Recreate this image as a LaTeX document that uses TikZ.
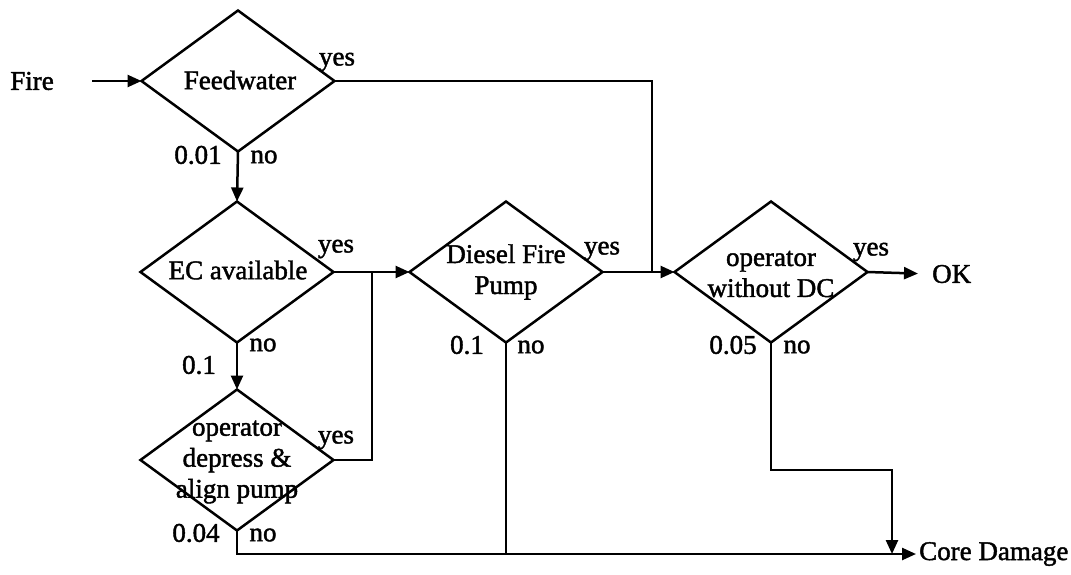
\documentclass[tikz,border=0pt]{standalone}
\usepackage{fontspec}
\setmainfont{Liberation Serif}[BoldFont=Liberation Serif,BoldFeatures={FakeBold=1.6}]
\usetikzlibrary{shapes.geometric,arrows.meta}
\begin{document}
\begin{tikzpicture}[x=1pt,y=-1pt,
  dia/.style={draw,diamond,line width=2.5pt,inner sep=0pt,outer sep=0pt,minimum width=193pt,minimum height=141pt},
  txt/.style={font=\fontsize{27}{31}\selectfont\bfseries,align=center,inner sep=0pt},
  lbl/.style={font=\fontsize{27}{31}\selectfont\bfseries,inner sep=0pt},
  conn/.style={line width=2.5pt},
  arr/.style={conn,-{Triangle[length=14pt,width=12pt]}},
]
\useasboundingbox (0,0) rectangle (1071,574);

% decision diamonds
\node[dia] (fw) at (238,81) {};
\node[dia] (ec) at (237,272) {};
\node[dia] (od) at (237,460) {};
\node[dia] (df) at (506,272) {};
\node[dia] (dc) at (771,272) {};

% texts inside
\node[txt] (fwt) at (240,80) {Feedwater};
\node[txt] (ect) at (238,270) {EC available};
\node[txt] (odt) at (237,462) {operator\\depress \&\\align pump};
\node[txt] (dft) at (506,272) {Diesel Fire\\Pump};
\node[txt] (dct) at (771,274) {operator\\without DC};

% branch labels
\node[lbl] (fwy) at (337,62) {yes};
\node[lbl] (fwn) at (264,157) {no};
\node[lbl] (fwp) at (198,155) {0.01};
\node[lbl] (ecy) at (336,249) {yes};
\node[lbl] (ecn) at (263,345) {no};
\node[lbl] (ecp) at (199,365) {0.1};
\node[lbl] (ody) at (336,440) {yes};
\node[lbl] (odn) at (263,535) {no};
\node[lbl] (odp) at (196,533) {0.04};
\node[lbl] (dfy) at (602,251) {yes};
\node[lbl] (dfn) at (531,347) {no};
\node[lbl] (dfp) at (467,345) {0.1};
\node[lbl] (dcy) at (871,252) {yes};
\node[lbl] (dcn) at (797,347) {no};
\node[lbl] (dcp) at (733,345) {0.05};

% terminals
\node[lbl] (fire) at (32,81) {Fire};
\node[lbl,anchor=west] (ok) at (932,274) {OK};
\node[lbl,anchor=west] (cd) at (919,554) {Core Damage};

% helper coordinates
\coordinate (fireS) at (92,81);
\coordinate (j1) at (372,272);
\coordinate (j2) at (652,272);
\coordinate (c1) at (892,470);
\coordinate (b1) at (237,554);
\coordinate (b2) at (892,554);

% connectors
\draw[arr] (fireS) -- (fw.west);
\draw[arr] (fw.south) -- (ec.north);
\draw[arr] (ec.south) -- (od.north);
\draw[arr] (ec.east) -- (df.west);
\draw[conn] (od.east) -| (j1);
\draw[arr] (df.east) -- (dc.west);
\draw[conn] (fw.east) -| (j2);
\draw[arr,shorten >=14pt] (dc.east) -- (ok.west);
\draw[conn] (od.south) |- (b2);
\draw[conn] (df.south) -- (df.south |- b1);
\draw[arr] (dc.south) |- (c1) -- (b2);
\draw[arr,shorten >=3pt] (b2) -- (cd.west);
\end{tikzpicture}
\end{document}
